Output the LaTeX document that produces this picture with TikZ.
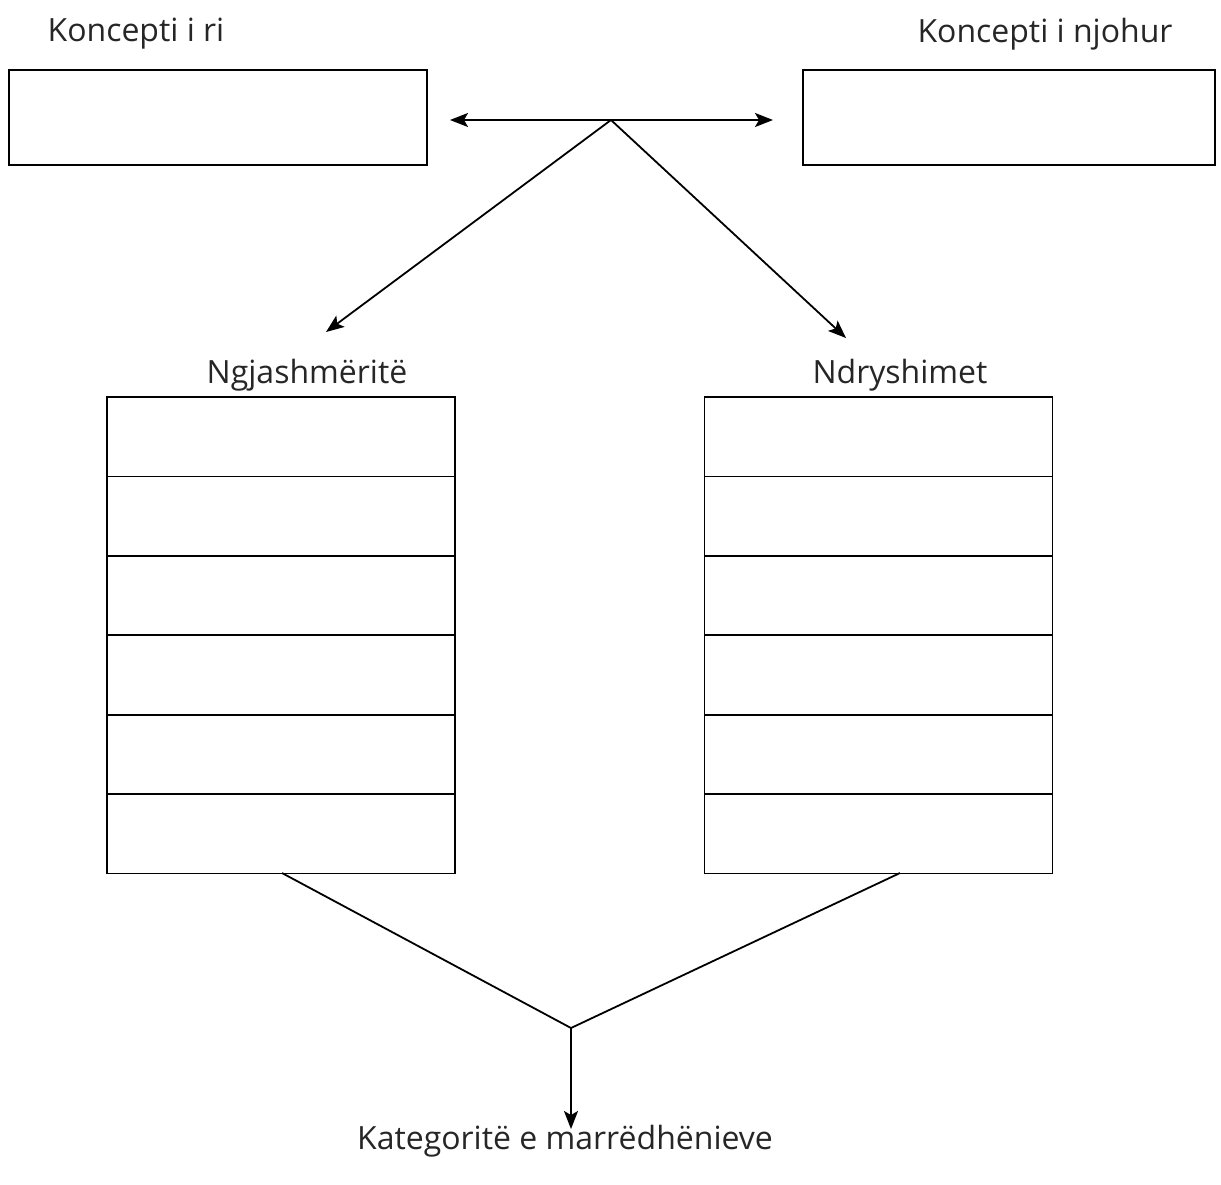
\documentclass[tikz,border=0pt]{standalone}
\usepackage{fontspec}
\setmainfont{Open Sans}
\usetikzlibrary{arrows.meta}
\begin{document}
\begin{tikzpicture}[x=1pt,y=-1pt,
  line width=1.8pt,
  lbl/.style={font=\fontsize{32}{38}\selectfont, text=black!85, inner sep=0pt},
  topbox/.style={draw, minimum width=418pt, minimum height=95pt, inner sep=0pt},
  rowbox/.style={draw, minimum width=348pt, minimum height=79.4pt, inner sep=0pt},
  tip/.style={-{Stealth[length=18pt,width=14pt,inset=4pt]}}
]
\useasboundingbox (0,0) rectangle (1221,1184);

% top boxes and their captions
\node[topbox] (new) at (218,117.5) {};
\node[topbox, minimum width=412pt] (known) at (1009,117.5) {};
\node[lbl] (newlbl) at (136,34) {Koncepti i ri};
\node[lbl] (knownlbl) at (1045,34) {Koncepti i njohur};

% comparison hub between the two concepts
\coordinate (hub) at (611,120);
\coordinate (hl) at (450,120);
\coordinate (hr) at (773,120);
\draw[tip] (hub) -- (hl);
\draw[tip] (hub) -- (hr);

\coordinate (simend) at (326,332);
\coordinate (difend) at (846,338);
\draw[tip] (hub) -- (simend);
\draw[tip] (hub) -- (difend);

% column captions
\node[lbl] (simlbl) at (307,375) {Ngjashmëritë};
\node[lbl] (diflbl) at (900,375) {Ndryshimet};

% two stacks of six rows
\foreach \i in {1,...,6} {
  \node[rowbox] (s\i) at (281,{397+79.4*(\i-0.5)}) {};
  \node[rowbox] (d\i) at (878.5,{397+79.4*(\i-0.5)}) {};
}

% merging lines and final arrow
\coordinate (sfoot) at (282,873);
\coordinate (dfoot) at (900,873);
\coordinate (merge) at (571,1028);
\coordinate (catend) at (571,1129);
\draw (sfoot) -- (merge) -- (dfoot);
\draw[tip] (merge) -- (catend);
\node[lbl] (catlbl) at (565,1141) {Kategoritë e marrëdhënieve};
\end{tikzpicture}
\end{document}
